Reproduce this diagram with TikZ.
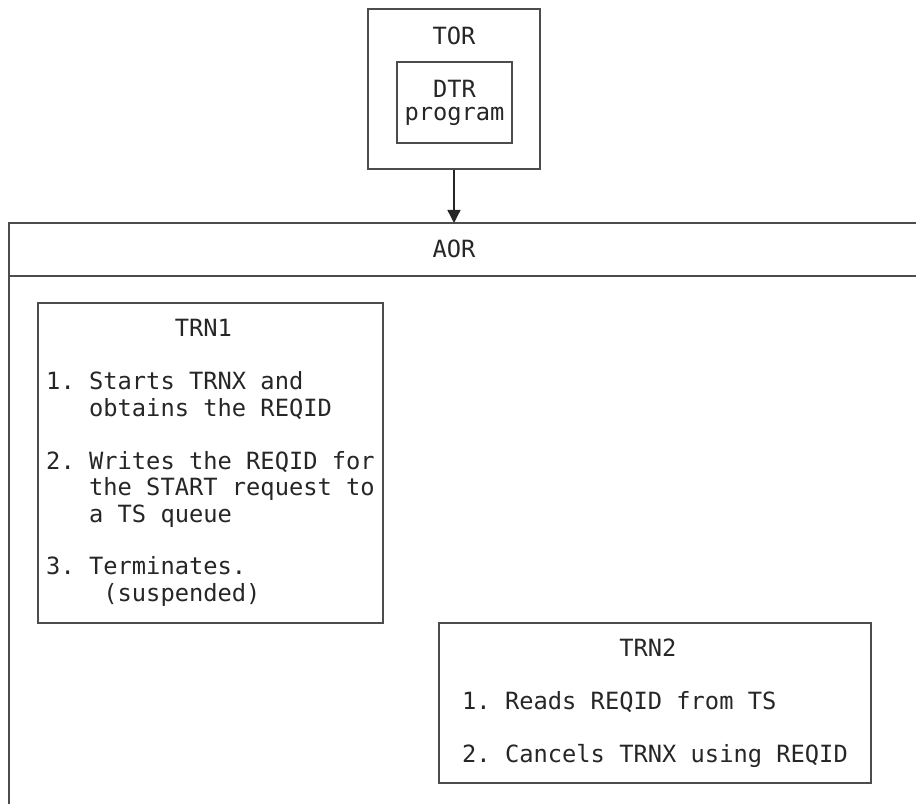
\documentclass[tikz,border=0pt]{standalone}
\usepackage{fontspec}
\setmonofont{DejaVu Sans Mono}
\usetikzlibrary{arrows.meta}
\frenchspacing

\begin{document}
\begin{tikzpicture}

\tikzstyle{cadre}=[rectangle, draw=black!70, line width=0.8pt, inner sep=0pt]
\tikzstyle{texte}=[text=black!85, font=\ttfamily\fontsize{13.5}{15.08}\selectfont]
\tikzstyle{trn}=[cadre, texte, align=left]
\tikzstyle{suite}=[-{Triangle[width=0.26cm,length=0.26cm]}, draw=black!85, line width=0.8pt]

\useasboundingbox (0,0) rectangle (18.32,16.08);

%région TOR
\node[cadre, minimum width=3.44cm, minimum height=3.2cm] (tor) at (9.08,14.30) {};
\node[texte] (torlbl) at (9.08,15.37) {TOR};
\node[cadre, texte, align=center, minimum width=2.30cm, minimum height=1.62cm,
      font=\ttfamily\fontsize{13.5}{13.1}\selectfont] (dtr) at (9.09,14.03) {DTR\\program};

%région AOR
\coordinate (aornw) at (0.18,11.62);
\coordinate (aorne) at (18.32,11.62);
\coordinate (aorw) at (0.18,10.56);
\coordinate (aore) at (18.32,10.56);
\coordinate (aorsw) at (0.18,0);
\node[texte] (aor) at (9.08,11.10) {AOR};
\draw[cadre] (aorne) -- (aornw) -- (aorsw);
\draw[cadre] (aorw) -- (aore);

%transactions
\node[trn, minimum width=6.90cm, minimum height=6.40cm] (trn1) at (4.21,6.82) {%
\hphantom{000000000}TRN1\\[15pt]
1. Starts TRNX and\\
\hphantom{000}obtains the REQID\\[15pt]
2. Writes the REQID for\\
\hphantom{000}the START request to\\
\hphantom{000}a TS queue\\[15pt]
3. Terminates.\\
\hphantom{0000}(suspended)};
\node[trn, minimum width=8.64cm, minimum height=3.20cm] (trn2) at (13.10,2.02) {%
\hphantom{00000000000}TRN2\\[15pt]
1. Reads REQID from TS\\[15pt]
2. Cancels TRNX using REQID};

%flèche
\draw[suite] (tor.south) -- (tor.south |- aornw);
\end{tikzpicture}
\end{document}
